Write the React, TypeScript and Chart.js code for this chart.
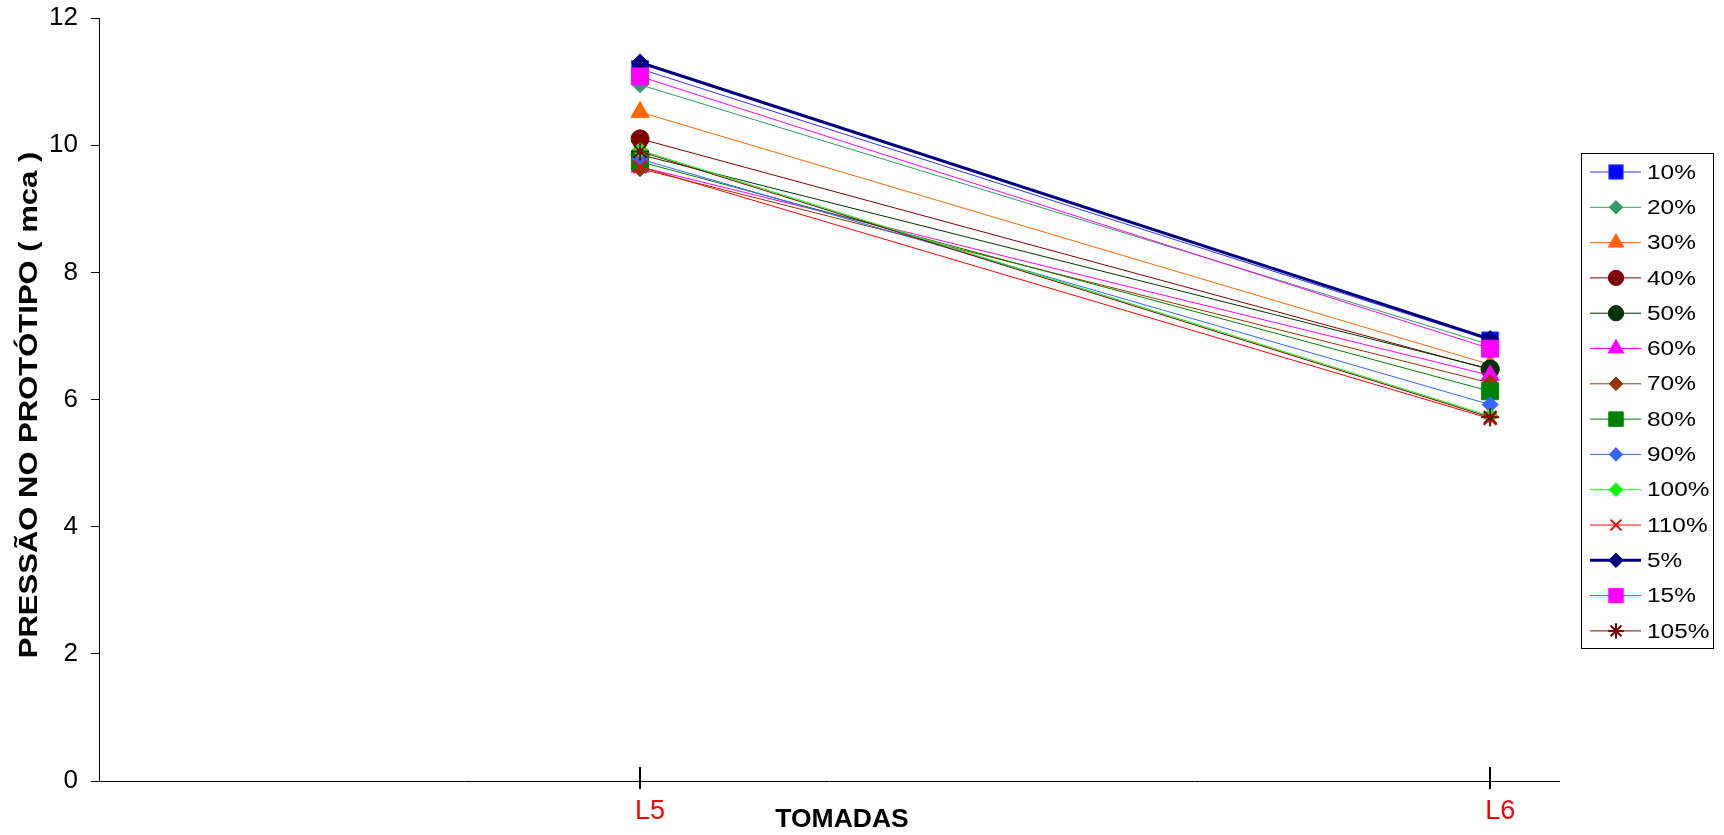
import { useEffect, useRef } from 'react';
import { Chart, registerables } from 'chart.js';
import { drawPoint } from 'chart.js/helpers';

Chart.register(...registerables);

// Pressure taps along the x axis
const categories = ['L5', 'L6'];

// Y axis (mca)
const yMin = 0;
const yMax = 12;
const yStep = 2;

// Series names, in legend order
const seriesLabels = ['10%', '20%', '30%', '40%', '50%', '60%', '70%', '80%', '90%', '100%', '110%', '5%', '15%', '105%'];

// Pressure at L5 and L6 for each series
const s10 = [11.2, 6.93];
const s20 = [10.95, 6.86];
const s30 = [10.52, 6.55];
const s40 = [10.1, 6.47];
const s50 = [9.85, 6.48];
const s60 = [9.66, 6.38];
const s70 = [9.63, 6.26];
const s80 = [9.74, 6.13];
const s90 = [9.78, 5.92];
const s100 = [9.92, 5.74];
const s110 = [9.66, 5.7];
const s5 = [11.3, 6.95];
const s15 = [11.08, 6.8];
const s105 = [9.9, 5.72];

const seriesValues = [s10, s20, s30, s40, s50, s60, s70, s80, s90, s100, s110, s5, s15, s105];

type Style = { line: string; fill: string; border: string; shape: string; r: number; lw: number };

const styles: Style[] = [
  { line: '#3333FF', fill: '#0000FF', border: '#3366FF', shape: 'rect', r: 12, lw: 1 },
  { line: '#339966', fill: '#339966', border: '#339966', shape: 'rectRot', r: 8, lw: 1 },
  { line: '#FF6600', fill: '#FF6600', border: '#FF6600', shape: 'triangle', r: 10.5, lw: 1 },
  { line: '#800000', fill: '#800000', border: '#800000', shape: 'circle', r: 9, lw: 1 },
  { line: '#003300', fill: '#003300', border: '#003300', shape: 'circle', r: 9, lw: 1 },
  { line: '#FF00FF', fill: '#FF00FF', border: '#FF00FF', shape: 'triangle', r: 10.5, lw: 1 },
  { line: '#993300', fill: '#993300', border: '#993300', shape: 'rectRot', r: 8, lw: 1 },
  { line: '#008000', fill: '#008000', border: '#008000', shape: 'rect', r: 12, lw: 1 },
  { line: '#3366FF', fill: '#3366FF', border: '#3366FF', shape: 'rectRot', r: 8, lw: 1 },
  { line: '#00FF00', fill: '#00FF00', border: '#00FF00', shape: 'rectRot', r: 8, lw: 1 },
  { line: '#FF0000', fill: '#FF0000', border: '#FF0000', shape: 'crossRot', r: 9, lw: 1 },
  { line: '#000080', fill: '#000080', border: '#000080', shape: 'rectRot', r: 8.5, lw: 3 },
  { line: '#FF00FF', fill: '#FF00FF', border: '#FF00FF', shape: 'rect', r: 12, lw: 1 },
  { line: '#800000', fill: '#800000', border: '#800000', shape: 'star', r: 9, lw: 1 },
];

const FONT = 'Arial, "Liberation Sans", sans-serif';

// Tick marks that cross the x axis, axis titles and the boxed legend
const overlay = {
  id: 'overlay',
  afterDraw(chart: any) {
    const { ctx, chartArea, scales } = chart;
    const x = scales.x;
    ctx.save();

    // category tick marks
    ctx.strokeStyle = '#000';
    ctx.lineWidth = 2;
    categories.forEach((_, i) => {
      const px = Math.round(x.getPixelForValue(i));
      ctx.beginPath();
      ctx.moveTo(px, chartArea.bottom - 14);
      ctx.lineTo(px, chartArea.bottom + 8);
      ctx.stroke();
    });

    // axis titles
    ctx.fillStyle = '#000';
    ctx.font = `bold 26.5px ${FONT}`;
    ctx.textAlign = 'center';
    ctx.textBaseline = 'middle';
    ctx.fillText('TOMADAS', 842, 820);

    ctx.save();
    ctx.font = `bold 25px ${FONT}`;
    ctx.translate(30, 405);
    ctx.rotate(-Math.PI / 2);
    ctx.scale(1.24, 1);
    ctx.fillText('PRESSÃO NO PROTÓTIPO ( mca )', 0, 0);
    ctx.restore();

    // legend
    const lx = 1581;
    const ly = 153;
    const lw = 132;
    const lh = 495;
    ctx.fillStyle = '#fff';
    ctx.fillRect(lx, ly, lw, lh);
    ctx.strokeStyle = '#000';
    ctx.lineWidth = 1;
    ctx.strokeRect(lx + 0.5, ly + 0.5, lw, lh);

    seriesLabels.forEach((label, i) => {
      const st = styles[i];
      const cy = 172 + i * 35.3;
      ctx.strokeStyle = st.line;
      ctx.lineWidth = st.lw;
      ctx.beginPath();
      ctx.moveTo(1590, cy);
      ctx.lineTo(1641, cy);
      ctx.stroke();

      const cross = st.shape === 'crossRot' || st.shape === 'star';
      ctx.fillStyle = st.fill;
      ctx.strokeStyle = cross ? st.fill : st.border;
      ctx.lineWidth = cross ? 2 : 1;
      drawPoint(ctx, { pointStyle: st.shape, radius: st.r * 0.85, rotation: 0, borderWidth: 1 } as any, 1616, cy);

      ctx.save();
      ctx.fillStyle = '#000';
      ctx.font = `20.5px ${FONT}`;
      ctx.textAlign = 'left';
      ctx.textBaseline = 'middle';
      ctx.translate(1647, cy + 1);
      ctx.scale(1.19, 1);
      ctx.fillText(label, 0, 0);
      ctx.restore();
    });

    ctx.restore();
  },
};

export default function App() {
  const canvasRef = useRef<HTMLCanvasElement | null>(null);

  useEffect(() => {
    document.body.style.margin = '0';
    const canvas = canvasRef.current;
    if (!canvas) return;

    const datasets = seriesLabels.map((label, i) => {
      const st = styles[i];
      const cross = st.shape === 'crossRot' || st.shape === 'star';
      return {
        label,
        data: seriesValues[i].map((v, k) => ({ x: k, y: v })),
        borderColor: st.line,
        borderWidth: st.lw,
        backgroundColor: st.fill,
        pointStyle: st.shape,
        pointRadius: st.r,
        pointHoverRadius: st.r,
        pointBackgroundColor: st.fill,
        pointBorderColor: cross ? st.fill : st.border,
        pointBorderWidth: cross ? 2 : 1,
        tension: 0,
        fill: false,
        order: seriesLabels.length - i,
      };
    });

    const chart = new Chart(canvas, {
      type: 'line',
      data: { datasets },
      options: {
        animation: false,
        responsive: false,
        devicePixelRatio: 1,
        layout: { padding: { top: 18, right: 165, bottom: 0, left: 0 } },
        plugins: { legend: { display: false }, tooltip: { enabled: false } },
        scales: {
          x: {
            type: 'linear',
            min: -0.6365,
            max: 1.081,
            afterBuildTicks: (scale: any) => {
              scale.ticks = categories.map((_, i) => ({ value: i }));
            },
            afterFit: (scale: any) => {
              scale.height = 54;
              scale.paddingLeft = 0;
              scale.paddingRight = 0;
            },
            grid: { display: false, drawTicks: false },
            border: { display: true, color: '#000', width: 1 },
            ticks: {
              color: '#FF0000',
              font: { family: FONT, size: 27 },
              padding: 14,
              labelOffset: 10,
              callback: (v: any) => categories[v] ?? '',
            },
          },
          y: {
            min: yMin,
            max: yMax,
            afterFit: (scale: any) => {
              scale.width = 99;
              scale.paddingTop = 0;
              scale.paddingBottom = 0;
            },
            grid: { drawOnChartArea: false, drawTicks: true, tickLength: 8, color: '#000' },
            border: { display: true, color: '#000', width: 1 },
            ticks: {
              stepSize: yStep,
              color: '#000',
              font: { family: FONT, size: 26 },
              padding: 13,
            },
          },
        },
      },
      plugins: [overlay],
    });

    return () => chart.destroy();
  }, []);

  return <canvas ref={canvasRef} width={1724} height={835} style={{ display: 'block', width: 1724, height: 835 }} />;
}
